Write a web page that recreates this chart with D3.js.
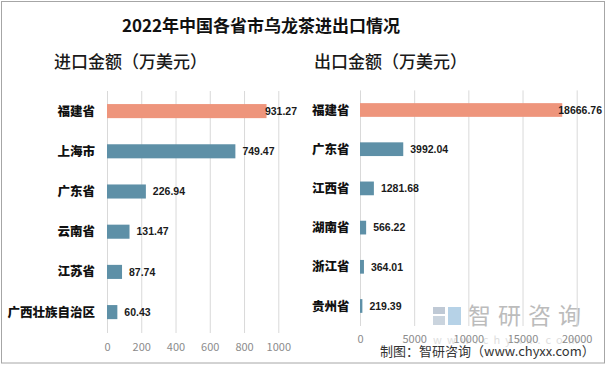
<!DOCTYPE html>
<html><head><meta charset="utf-8">
<script src="https://cdn.jsdelivr.net/npm/d3@7"></script>
<style>
html,body{margin:0;padding:0;background:#fff;}
text{font-family:"Noto Sans CJK SC","Microsoft YaHei",sans-serif;}
.num{font-family:"Liberation Sans",Arial,sans-serif;}
</style></head>
<body><svg id="c" width="608" height="366"></svg>
<script>
const title = "2022年中国各省市乌龙茶进出口情况";
const importTitle = "进口金额（万美元）";
const exportTitle = "出口金额（万美元）";
const importCategories = ["福建省","上海市","广东省","云南省","江苏省","广西壮族自治区"];
const importValues = [931.27, 749.47, 226.94, 131.47, 87.74, 60.43];
const importTicks = [0, 200, 400, 600, 800, 1000];
const exportCategories = ["福建省","广东省","江西省","湖南省","浙江省","贵州省"];
const exportValues = [18666.76, 3992.04, 1281.68, 566.22, 364.01, 219.39];
const exportTicks = [0, 5000, 10000, 15000, 20000];
const sourceText = "制图：智研咨询（www.chyxx.com）";
const watermarkText = "智研咨询";
const watermarkUrl = "www.chyxx.com";

const svg = d3.select("#c");
svg.append("rect").attr("x",1.5).attr("y",1.5).attr("width",603).attr("height",361.5)
  .attr("fill","#fff").attr("stroke","#a6a6a6").attr("stroke-width",1);

svg.append("text").attr("x",261).attr("y",31.5).attr("text-anchor","middle")
  .attr("font-size",17).attr("font-weight","bold").attr("fill","#111").text(title);

const HI = "#ee957c", BLUE = "#5e90a7";

// watermark (behind chart marks)
const wm = svg.append("g").attr("opacity",0.75);
wm.append("rect").attr("x",433).attr("y",307).attr("width",12).attr("height",7).attr("fill","#aab8c8");
wm.append("rect").attr("x",433).attr("y",316).attr("width",12).attr("height",9).attr("fill","#b9c6d4");
wm.append("rect").attr("x",448).attr("y",307).attr("width",13).attr("height",18).attr("fill","#9ec3e0");
wm.append("text").attr("x",468).attr("y",324).attr("font-size",23).attr("letter-spacing",7)
  .attr("fill","#a6a6a6").text(watermarkText);
wm.append("text").attr("x",433).attr("y",344).attr("font-size",11).attr("letter-spacing",5.2)
  .attr("fill","#d4d4d4").attr("font-family","'Liberation Sans',Arial,sans-serif").text(watermarkUrl);

function panel(o){
  const g = svg.append("g");
  const x = d3.scaleLinear().domain([0, o.max]).range([o.x0, o.x1]);
  const y = d3.scaleBand().domain(o.cats).range([o.y0, o.y1]).paddingInner(0.65).paddingOuter(0.325);
  g.selectAll("line.grid").data(o.ticks).join("line")
    .attr("x1",d=>x(d)+0.5).attr("x2",d=>x(d)+0.5)
    .attr("y1",o.y0).attr("y2",o.gridBottom)
    .attr("stroke","#d9d9d9").attr("stroke-width",1);
  g.append("text").attr("x",o.subX).attr("y",68).attr("font-size",17).attr("font-weight",500)
    .attr("fill","#1a1a1a").text(o.sub);
  g.selectAll("rect.bar").data(o.vals).join("rect")
    .attr("x",x(0)).attr("y",(d,i)=>y(o.cats[i]))
    .attr("width",d=>x(d)-x(0)).attr("height",y.bandwidth())
    .attr("fill",(d,i)=>i===0?HI:BLUE);
  g.selectAll("text.cat").data(o.cats).join("text")
    .attr("x",o.catX).attr("y",d=>y(d)+y.bandwidth()/2).attr("dy","0.36em")
    .attr("text-anchor",o.catAnchor).attr("font-size",12.5).attr("font-weight",900)
    .attr("fill","#111").text(d=>d);
  g.selectAll("text.val").data(o.vals).join("text").attr("class","num")
    .attr("y",(d,i)=>y(o.cats[i])+y.bandwidth()/2).attr("dy","0.36em")
    .attr("font-size",10.5).attr("font-weight","bold").attr("fill","#1a1a1a")
    .text(d=>d.toFixed(2))
    .attr("x",function(d){const w=this.getComputedTextLength();return Math.min(x(d)+7, o.right - w);});
  const ax = g.append("g").attr("transform",`translate(0,${o.axisY})`)
    .call(d3.axisBottom(x).tickValues(o.ticks).tickSize(0).tickPadding(0).tickFormat(d3.format("d")));
  ax.select(".domain").remove();
  ax.selectAll("text").attr("font-size",11).attr("fill","#8c8c8c")
    .attr("font-family","'Liberation Sans',Arial,sans-serif");
  return {x,y};
}

panel({cats:importCategories, vals:importValues, ticks:importTicks, max:1000,
  x0:107, x1:278.3, y0:91, y1:332.2, gridBottom:333, axisY:343,
  catX:95, catAnchor:"end", right:297, sub:importTitle, subX:54});
panel({cats:exportCategories, vals:exportValues, ticks:exportTicks, max:20000,
  x0:360, x1:576.7, y0:90.4, y1:325.6, gridBottom:326, axisY:335,
  catX:312, catAnchor:"start", right:602, sub:exportTitle, subX:314});

svg.append("text").attr("x",380).attr("y",356).attr("font-size",13).attr("fill","#333").text(sourceText);
</script></body></html>
